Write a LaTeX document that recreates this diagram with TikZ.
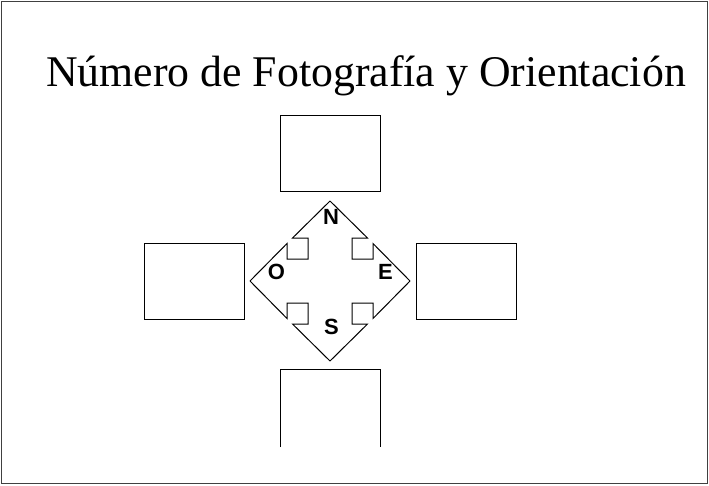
\documentclass[tikz,border=0pt]{standalone}
\usepackage{fontspec}
\setmainfont{Liberation Serif}
\setsansfont{Liberation Sans}
\usepackage{tikz}

\begin{document}
\begin{tikzpicture}[x=1pt,y=-1pt,line width=1pt,
  photobox/.style={draw,minimum width=100pt,minimum height=76pt,inner sep=0pt},
  pointletter/.style={font=\sffamily\bfseries\fontsize{22}{26}\selectfont,inner sep=0pt}]
\useasboundingbox (0,0) rectangle (709,485);
% page frame
\draw[black!75,line width=1.3pt] (1.5,1.5) rectangle (707.5,483.5);
% title
\node[anchor=base,font=\fontsize{43.8}{50}\selectfont,inner sep=0pt] (title) at (366,86) {Número de Fotografía y Orientación};
% photo boxes
\node[photobox] (north) at (330,153) {};
\node[photobox] (west) at (194,281) {};
\node[photobox] (east) at (466,281) {};
% bottom box, cut off at the page foot
\draw (280.5,447) -- (280.5,369.5) -- (380.5,369.5) -- (380.5,447);
% compass: four arrows round the centre
\foreach \a in {0,90,180,270}{
  \draw[shift={(330,281)},rotate=\a,line join=miter]
    (0,-80) -- (37.5,-43) -- (22,-43) -- (22,-22) -- (43,-22) -- (43,-37.5) -- (80,0);
}
\node[pointletter] (n) at (331,217) {N};
\node[pointletter] (o) at (276.5,272) {O};
\node[pointletter] (e) at (385.5,271.5) {E};
\node[pointletter] (s) at (331.5,327) {S};
\end{tikzpicture}
\end{document}
